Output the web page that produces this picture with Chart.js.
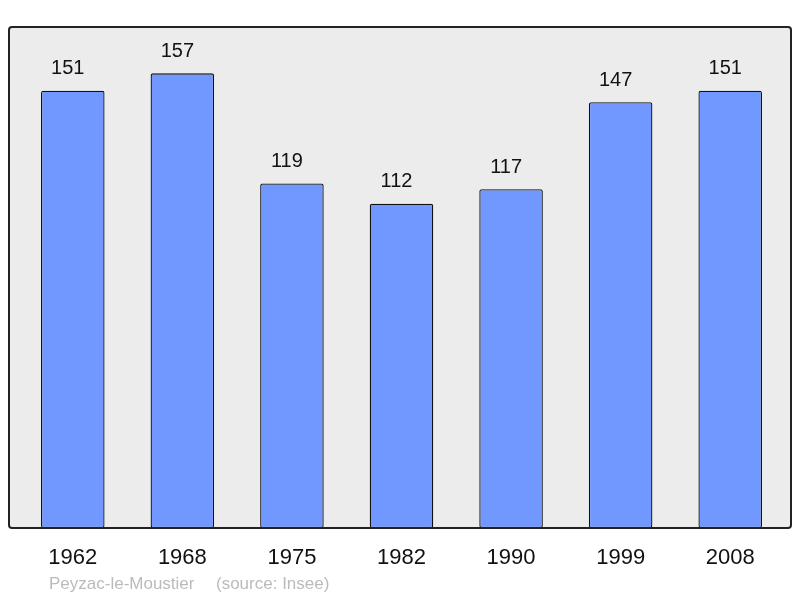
<!DOCTYPE html>
<html>
<head>
<meta charset="utf-8">
<script src="https://cdn.jsdelivr.net/npm/chart.js@4.4.0/dist/chart.umd.min.js"></script>
<style>
  html, body { margin: 0; padding: 0; background: #fff; }
  #wrap { width: 800px; height: 598px; }
</style>
</head>
<body>
<div id="wrap"><canvas id="popChart"></canvas></div>
<script>
// Population data
const years = ['1962', '1968', '1975', '1982', '1990', '1999', '2008'];
const population = [151, 157, 119, 112, 117, 147, 151];
const commune = 'Peyzac-le-Moustier';
const sourceText = '(source: Insee)';

// Grey frame behind the bars
const framePlugin = {
    id: 'frame',
    beforeDatasetsDraw(chart) {
        const { ctx, chartArea: a } = chart;
        ctx.save();
        ctx.beginPath();
        ctx.roundRect(a.left - 9, a.top, a.right - a.left + 15, a.bottom - a.top, 3);
        ctx.fillStyle = '#ececec';
        ctx.fill();
        ctx.restore();
    },
    afterDatasetsDraw(chart) {
        const { ctx, chartArea: a } = chart;
        ctx.save();
        ctx.beginPath();
        ctx.roundRect(a.left - 9, a.top, a.right - a.left + 15, a.bottom - a.top, 3);
        ctx.lineWidth = 2;
        ctx.strokeStyle = '#222';
        ctx.stroke();

        // value above each bar (sits a little left of centre, as in the original)
        const meta = chart.getDatasetMeta(0);
        ctx.font = '20px "Liberation Sans", Arial, sans-serif';
        ctx.fillStyle = '#111';
        ctx.textAlign = 'center';
        ctx.textBaseline = 'middle';
        meta.data.forEach((bar, i) => {
            ctx.fillText(String(population[i]), bar.x - 5, bar.y - 22);
        });

        // footer
        ctx.font = '17px "Liberation Sans", Arial, sans-serif';
        ctx.fillStyle = '#bbbbbb';
        ctx.textAlign = 'left';
        ctx.fillText(commune, 49, 584);
        ctx.fillText(sourceText, 216, 584);
        ctx.restore();
    }
};

new Chart(document.getElementById('popChart'), {
    type: 'bar',
    data: {
        labels: years,
        datasets: [{
            data: population,
            backgroundColor: '#7098ff',
            borderColor: '#111',
            borderWidth: 1.3,
            borderRadius: 2,
            borderSkipped: false,
            barPercentage: 0.58,
            categoryPercentage: 1
        }]
    },
    options: {
        responsive: true,
        maintainAspectRatio: false,
        animation: false,
        layout: {
            padding: { left: 18, right: 15, top: 27, bottom: 0 }
        },
        plugins: {
            legend: { display: false },
            tooltip: { enabled: false }
        },
        scales: {
            x: {
                grid: { display: false, drawTicks: false },
                border: { display: false },
                ticks: {
                    color: '#111',
                    padding: 17,
                    font: { size: 22, family: '"Liberation Sans", Arial, sans-serif' }
                },
                afterFit(scale) { scale.height = 70; }
            },
            y: {
                display: false,
                min: 0,
                max: 173
            }
        }
    },
    plugins: [framePlugin]
});
</script>
</body>
</html>
